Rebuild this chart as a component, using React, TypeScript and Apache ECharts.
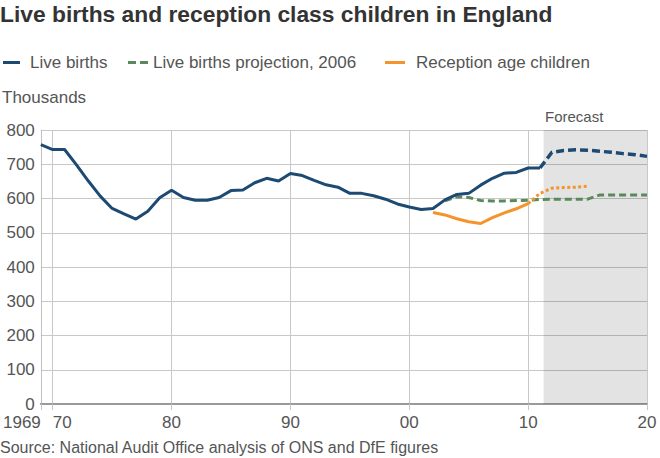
import React, { useEffect, useRef } from "react";
import * as echarts from "echarts";

const FONT = '"Liberation Sans", Arial, Helvetica, sans-serif';

const titleText = "Live births and reception class children in England";
const sourceText = "Source: National Audit Office analysis of ONS and DfE figures";
const yAxisTitle = "Thousands";
const forecastLabel = "Forecast";

const legendNames = ["Live births", "Live births projection, 2006", "Reception age children"];

const liveBirthYears = [
  1969, 1970, 1971, 1972, 1973, 1974, 1975, 1976, 1977, 1978, 1979,
  1980, 1981, 1982, 1983, 1984, 1985, 1986, 1987, 1988, 1989,
  1990, 1991, 1992, 1993, 1994, 1995, 1996, 1997, 1998, 1999,
  2000, 2001, 2002, 2003, 2004, 2005, 2006, 2007, 2008, 2009, 2010, 2011,
];
const liveBirths = [
  757, 743, 743, 698, 651, 607, 571, 555, 540, 563, 602,
  624, 603, 595, 595, 603, 623, 625, 646, 659, 651,
  673, 667, 653, 640, 633, 615, 615, 608, 598, 584,
  575, 568, 571, 596, 612, 615, 639, 659, 674, 676, 689, 689,
];

const forecastYears = [2011, 2012, 2013, 2014, 2015, 2016, 2017, 2018, 2019, 2020];
const forecastBirths = [689, 735, 740, 742, 741, 738, 735, 731, 728, 723];

const projectionYears = [
  2003, 2004, 2005, 2006, 2007, 2008, 2009, 2010, 2011,
  2012, 2013, 2014, 2015, 2016, 2017, 2018, 2019, 2020,
];
const projection2006 = [
  593, 605, 603, 594, 593, 593, 594, 595, 597,
  598, 598, 598, 598, 610, 610, 610, 610, 610,
];

const receptionYears = [2002, 2003, 2004, 2005, 2006, 2007, 2008, 2009, 2010];
const receptionChildren = [559, 552, 541, 532, 527, 544, 558, 570, 585];

const receptionForecastYears = [2010, 2011, 2012, 2013, 2014, 2015];
const receptionForecast = [585, 615, 630, 632, 633, 636];

const forecastStart = 2011.3;
const forecastEnd = 2020;

const xTickValues = [1969, 1970, 1980, 1990, 2000, 2010, 2020];
const xTickLabels = ["1969", "70", "80", "90", "00", "10", "20"];

const BLUE = "#1d4a73";
const GREEN = "#5a8a5a";
const ORANGE = "#f5942a";
const TEXT = "#555555";
const GRID = "#c8c8c8";

const pairs = (xs: number[], ys: number[]) => xs.map((x, i) => [x, ys[i]]);
const labelFor = (v: number) => {
  const i = xTickValues.indexOf(v);
  return i >= 0 ? xTickLabels[i] : "";
};

export default function App() {
  const ref = useRef<HTMLDivElement>(null);
  useEffect(() => {
    if (!ref.current) return;
    const chart = echarts.init(ref.current, null, { renderer: "svg" });
    const legendText = { fontSize: 17, color: TEXT, fontFamily: FONT };
    const labelBase = { fontSize: 17, color: TEXT, fontFamily: FONT, margin: 10, formatter: labelFor };
    const hiddenAxisParts = {
      axisLine: { show: false },
      axisTick: { show: false },
      splitLine: { show: false },
    };
    chart.setOption({
      animation: false,
      textStyle: { fontFamily: FONT },
      title: [
        {
          text: titleText,
          left: 0,
          top: 2,
          padding: 0,
          textStyle: { fontSize: 22.8, fontWeight: "bold", color: "#333333", fontFamily: FONT },
        },
        {
          text: sourceText,
          left: 0,
          top: 439,
          padding: 0,
          textStyle: { fontSize: 16, fontWeight: "normal", color: TEXT, fontFamily: FONT },
        },
      ],
      legend: [
        {
          left: 3,
          top: 54,
          padding: 0,
          itemWidth: 17,
          itemHeight: 3,
          data: [{ name: legendNames[0], icon: "rect", itemStyle: { color: BLUE, borderWidth: 0 } }],
          textStyle: { ...legendText, padding: [0, 0, 0, 5] },
          selectedMode: false,
        },
        {
          left: 128,
          top: 54,
          padding: 0,
          itemWidth: 20,
          itemHeight: 3,
          data: [
            {
              name: legendNames[1],
              icon: "path://M0,0h8v3h-8z M12,0h8v3h-8z",
              itemStyle: { color: GREEN, borderWidth: 0 },
            },
          ],
          textStyle: legendText,
          selectedMode: false,
        },
        {
          left: 385,
          top: 54,
          padding: 0,
          itemWidth: 20,
          itemHeight: 3,
          data: [{ name: legendNames[2], icon: "rect", itemStyle: { color: ORANGE, borderWidth: 0 } }],
          textStyle: { ...legendText, padding: [0, 0, 0, 6] },
          selectedMode: false,
        },
      ],
      graphic: [
        {
          type: "text",
          left: 2,
          top: 89,
          style: { text: yAxisTitle, fontSize: 17, fill: TEXT, fontFamily: FONT },
        },
        {
          type: "text",
          left: 545,
          top: 109,
          style: { text: forecastLabel, fontSize: 15, fill: TEXT, fontFamily: FONT },
        },
      ],
      grid: { left: 39, right: 13, top: 130, bottom: 54 },
      xAxis: [
        {
          type: "value",
          min: 1969,
          max: 2020,
          axisLine: { show: true, onZero: false, lineStyle: { color: "#999999", width: 2 } },
          axisTick: { show: true, customValues: xTickValues, length: 6, lineStyle: { color: GRID } },
          axisLabel: { ...labelBase, customValues: xTickValues.slice(2) },
          splitLine: { show: true, lineStyle: { color: GRID, width: 1 } },
        },
        {
          type: "value",
          min: 1969,
          max: 2020,
          position: "bottom",
          ...hiddenAxisParts,
          axisLabel: { ...labelBase, customValues: [xTickValues[0]], align: "right" },
        },
        {
          type: "value",
          min: 1969,
          max: 2020,
          position: "bottom",
          ...hiddenAxisParts,
          axisLabel: { ...labelBase, customValues: [xTickValues[1]], align: "left" },
        },
      ],
      yAxis: {
        type: "value",
        min: 0,
        max: 800,
        interval: 100,
        axisLine: { show: true, lineStyle: { color: "#c0c0c0", width: 1 } },
        axisTick: { show: false },
        axisLabel: { fontSize: 17, color: TEXT, fontFamily: FONT, margin: 6 },
        splitLine: { show: true, lineStyle: { color: GRID, width: 1 } },
      },
      series: [
        {
          name: legendNames[0],
          type: "line",
          data: pairs(liveBirthYears, liveBirths),
          symbol: "none",
          color: BLUE,
          lineStyle: { color: BLUE, width: 3 },
          z: 5,
        },
        {
          name: legendNames[0],
          type: "line",
          data: pairs(forecastYears, forecastBirths),
          symbol: "none",
          color: BLUE,
          lineStyle: { color: BLUE, width: 3.5, type: [8, 4] },
          z: 5,
          markArea: {
            silent: true,
            itemStyle: { color: "rgba(0,0,0,0.11)" },
            data: [[{ xAxis: forecastStart }, { xAxis: forecastEnd }]],
          },
        },
        {
          name: legendNames[1],
          type: "line",
          data: pairs(projectionYears, projection2006),
          symbol: "none",
          color: GREEN,
          lineStyle: { color: GREEN, width: 3, type: [7, 4] },
          z: 4,
        },
        {
          name: legendNames[2],
          type: "line",
          data: pairs(receptionYears, receptionChildren),
          symbol: "none",
          color: ORANGE,
          lineStyle: { color: ORANGE, width: 3 },
          z: 4,
        },
        {
          name: legendNames[2],
          type: "line",
          data: pairs(receptionForecastYears, receptionForecast),
          symbol: "none",
          color: ORANGE,
          lineStyle: { color: ORANGE, width: 3, type: [3, 2.5] },
          z: 4,
        },
      ],
    });
    return () => chart.dispose();
  }, []);
  return (
    <div
      ref={ref}
      style={{ position: "fixed", left: 0, top: 0, width: 660, height: 458, background: "#ffffff" }}
    />
  );
}
